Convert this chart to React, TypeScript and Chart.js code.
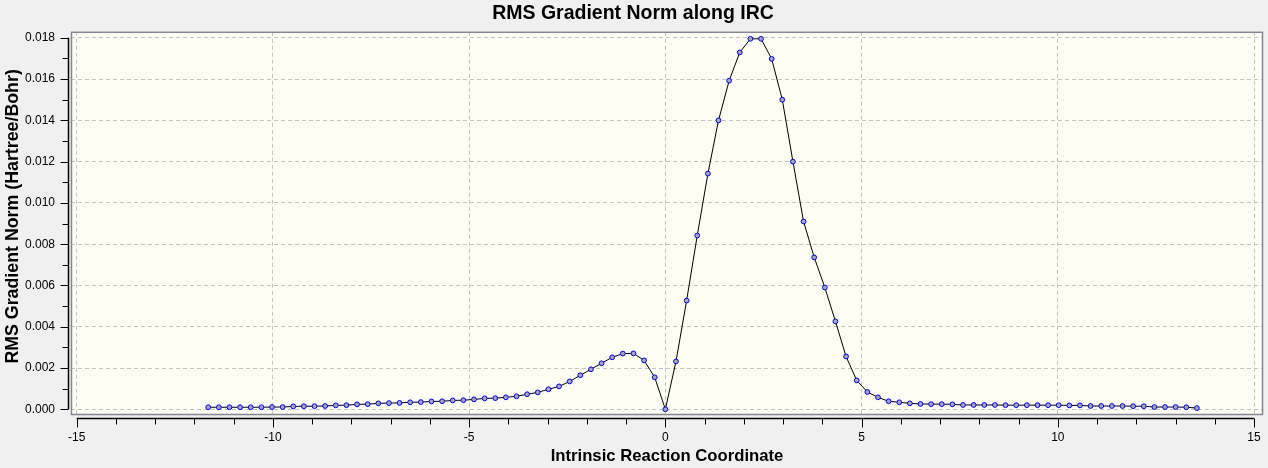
import React, { useEffect, useRef } from 'react';
import { Chart, registerables } from 'chart.js';

Chart.register(...registerables);

// Intrinsic reaction coordinate (x) for each IRC point
const irc = [
  -11.649, -11.378, -11.107, -10.836, -10.565, -10.294, -10.023, -9.752, -9.482, -9.211,
  -8.94, -8.669, -8.398, -8.127, -7.856, -7.585, -7.314, -7.043, -6.773, -6.502,
  -6.231, -5.96, -5.689, -5.418, -5.147, -4.876, -4.605, -4.334, -4.064, -3.793,
  -3.522, -3.251, -2.98, -2.709, -2.438, -2.167, -1.896, -1.625, -1.355, -1.084,
  -0.813, -0.542, -0.271, 0,
  0.271, 0.542, 0.813, 1.084, 1.355, 1.625, 1.896, 2.167, 2.438, 2.709,
  2.98, 3.251, 3.522, 3.793, 4.064, 4.334, 4.605, 4.876, 5.147, 5.418,
  5.689, 5.96, 6.231, 6.502, 6.773, 7.043, 7.314, 7.585, 7.856, 8.127,
  8.398, 8.669, 8.94, 9.211, 9.482, 9.752, 10.023, 10.294, 10.565, 10.836,
  11.107, 11.378, 11.649, 11.92, 12.191, 12.461, 12.732, 13.003, 13.274, 13.545,
];

// RMS gradient norm (Hartree/Bohr)
const gradNorm = [
  0.0001, 0.0001, 0.0001, 0.0001, 0.0001, 0.0001, 0.00011, 0.00011, 0.00014, 0.00015,
  0.00015, 0.00016, 0.00019, 0.0002, 0.00024, 0.00025, 0.00029, 0.0003, 0.00031, 0.00034,
  0.00035, 0.00038, 0.00039, 0.00043, 0.00044, 0.00048, 0.00053, 0.00054, 0.00058, 0.00063,
  0.00073, 0.00082, 0.00097, 0.00111, 0.00135, 0.00165, 0.00194, 0.00223, 0.00252, 0.0027,
  0.00271, 0.00237, 0.00155, 0.0,
  0.00232, 0.00527, 0.00842, 0.01142, 0.014, 0.01592, 0.01729, 0.01795, 0.01795, 0.01698,
  0.015, 0.012, 0.0091, 0.00736, 0.0059, 0.00426, 0.00256, 0.0014, 0.00084, 0.00058,
  0.00039, 0.00034, 0.00029, 0.00026, 0.00025, 0.00025, 0.00024, 0.00021, 0.00021, 0.00021,
  0.00021, 0.0002, 0.0002, 0.0002, 0.0002, 0.0002, 0.0002, 0.00019, 0.00019, 0.00016,
  0.00016, 0.00016, 0.00016, 0.00015, 0.00015, 0.00011, 0.00011, 0.00011, 0.0001, 0.00006,
];

const xTickValues = [-15, -10, -5, 0, 5, 10, 15];
const xTickLabels = ['-15', '-10', '-5', '0', '5', '10', '15'];
const yTickValues = [0, 0.002, 0.004, 0.006, 0.008, 0.01, 0.012, 0.014, 0.016, 0.018];
const yTickLabels = ['0.000', '0.002', '0.004', '0.006', '0.008', '0.010', '0.012', '0.014', '0.016', '0.018'];
const xMinorStep = 1;
const yMinorStep = 0.001;

const chartTitle = 'RMS Gradient Norm along IRC';
const xTitle = 'Intrinsic Reaction Coordinate';
const yTitle = 'RMS Gradient Norm (Hartree/Bohr)';

const FONT = "'Liberation Sans', Arial, sans-serif";

const framePlugin = {
  id: 'ircFrame',
  beforeDraw(chart: any) {
    const { ctx, chartArea: a, width, height } = chart;
    ctx.save();
    ctx.fillStyle = '#f0f0f0';
    ctx.fillRect(0, 0, width, height);
    ctx.fillStyle = '#fefef5';
    ctx.fillRect(a.left, a.top, a.right - a.left, a.bottom - a.top);
    ctx.restore();
  },
  afterDraw(chart: any) {
    const { ctx, chartArea: a, scales } = chart;
    const xs = scales.x;
    const ys = scales.y;
    ctx.save();
    // plot frame
    ctx.strokeStyle = '#868694';
    ctx.lineWidth = 1.5;
    ctx.strokeRect(a.left + 0.5, a.top + 0.5, a.right - a.left - 1, a.bottom - a.top - 1);

    ctx.strokeStyle = '#000';
    // y axis (detached from frame)
    const yx = Math.round(a.left - 3) + 0.5;
    const yTop = ys.getPixelForValue(yTickValues[yTickValues.length - 1]);
    const yBot = ys.getPixelForValue(yTickValues[0]);
    ctx.lineWidth = 1.5;
    ctx.beginPath();
    ctx.moveTo(yx, yTop);
    ctx.lineTo(yx, yBot);
    ctx.stroke();
    ctx.lineWidth = 1;
    ctx.beginPath();
    const yMax = yTickValues[yTickValues.length - 1];
    for (let k = 0; k * yMinorStep <= yMax + 1e-9; k++) {
      const v = k * yMinorStep;
      const py = Math.round(ys.getPixelForValue(v)) + 0.5;
      const len = k % 2 === 0 ? 8 : 6;
      ctx.moveTo(yx - len, py);
      ctx.lineTo(yx, py);
    }
    ctx.stroke();

    // x axis (detached from frame)
    const xy = Math.round(a.bottom + 3) + 0.5;
    const xL = xs.getPixelForValue(xTickValues[0]);
    const xR = xs.getPixelForValue(xTickValues[xTickValues.length - 1]);
    ctx.lineWidth = 1.5;
    ctx.beginPath();
    ctx.moveTo(xL, xy);
    ctx.lineTo(xR, xy);
    ctx.stroke();
    ctx.lineWidth = 1;
    ctx.beginPath();
    const x0 = xTickValues[0];
    const x1 = xTickValues[xTickValues.length - 1];
    for (let k = 0; x0 + k * xMinorStep <= x1 + 1e-9; k++) {
      const v = x0 + k * xMinorStep;
      const px = Math.round(xs.getPixelForValue(v)) + 0.5;
      const len = k % 5 === 0 ? 9 : 6;
      ctx.moveTo(px, xy);
      ctx.lineTo(px, xy + len);
    }
    ctx.stroke();

    // y axis title (rotated)
    ctx.fillStyle = '#000';
    ctx.font = `bold 17.8px ${FONT}`;
    ctx.textAlign = 'center';
    ctx.textBaseline = 'alphabetic';
    ctx.translate(18.3, (a.top + a.bottom) / 2 - 7);
    ctx.rotate(-Math.PI / 2);
    ctx.fillText(yTitle, 0, 0);
    ctx.restore();
  },
};

export default function App() {
  const canvasRef = useRef<HTMLCanvasElement | null>(null);

  useEffect(() => {
    document.body.style.margin = '0';
    document.body.style.background = '#f0f0f0';
    const canvas = canvasRef.current;
    if (!canvas) return;
    const points = irc.map((x, i) => ({ x, y: gradNorm[i] }));
    const chart = new Chart(canvas, {
      type: 'line',
      data: {
        datasets: [
          {
            label: 'RMS Gradient Norm',
            data: points,
            borderColor: '#000000',
            borderWidth: 1,
            tension: 0,
            pointRadius: 2.4,
            pointBorderWidth: 1,
            pointBackgroundColor: '#a6a6b8',
            pointBorderColor: '#0000ff',
            fill: false,
          },
        ],
      },
      options: {
        animation: false,
        responsive: false,
        events: [],
        layout: { padding: { left: 0, right: 2, top: 0, bottom: 0 } },
        plugins: {
          legend: { display: false },
          tooltip: { enabled: false },
          title: {
            display: true,
            text: chartTitle,
            color: '#000',
            font: { family: FONT, size: 19.5, weight: 'bold', lineHeight: 1.2 },
            padding: { top: 2.2, bottom: 6.2 },
          },
        },
        scales: {
          x: {
            type: 'linear',
            min: -15.1448,
            max: 15.2287,
            afterFit: (scale: any) => {
              scale.height = 53;
              scale.paddingLeft = 0;
              scale.paddingRight = 0;
            },
            afterBuildTicks: (scale: any) => {
              scale.ticks = xTickValues.map((v) => ({ value: v }));
            },
            ticks: {
              autoSkip: false,
              maxRotation: 0,
              padding: 0,
              color: '#000',
              font: { family: FONT, size: 12 },
              callback: (_v: any, i: number) => xTickLabels[i],
            },
            grid: {
              color: '#c4c4c4',
              lineWidth: 1,
              drawTicks: true,
              tickLength: 15,
              tickColor: 'rgba(0,0,0,0)',
            },
            border: { display: false, dash: [4, 3] },
            title: {
              display: true,
              text: xTitle,
              color: '#000',
              font: { family: FONT, size: 16.7, weight: 'bold', lineHeight: 1.2 },
              padding: { top: 0, bottom: 2 },
            },
          },
          y: {
            type: 'linear',
            min: -0.0002758,
            max: 0.0182903,
            afterFit: (scale: any) => {
              scale.width = 71;
              scale.paddingTop = 0;
              scale.paddingBottom = 0;
            },
            afterBuildTicks: (scale: any) => {
              scale.ticks = yTickValues.map((v) => ({ value: v }));
            },
            ticks: {
              autoSkip: false,
              padding: 0,
              color: '#000',
              font: { family: FONT, size: 12 },
              callback: (_v: any, i: number) => yTickLabels[i],
            },
            grid: {
              color: '#c4c4c4',
              lineWidth: 1,
              drawTicks: true,
              tickLength: 16,
              tickColor: 'rgba(0,0,0,0)',
            },
            border: { display: false, dash: [4, 3] },
            title: { display: false },
          },
        },
      },
      plugins: [framePlugin],
    } as any);
    return () => {
      chart.destroy();
    };
  }, []);

  return (
    <div style={{ width: 1268, height: 468, background: '#f0f0f0' }}>
      <canvas ref={canvasRef} width={1268} height={468} style={{ display: 'block' }} />
    </div>
  );
}
